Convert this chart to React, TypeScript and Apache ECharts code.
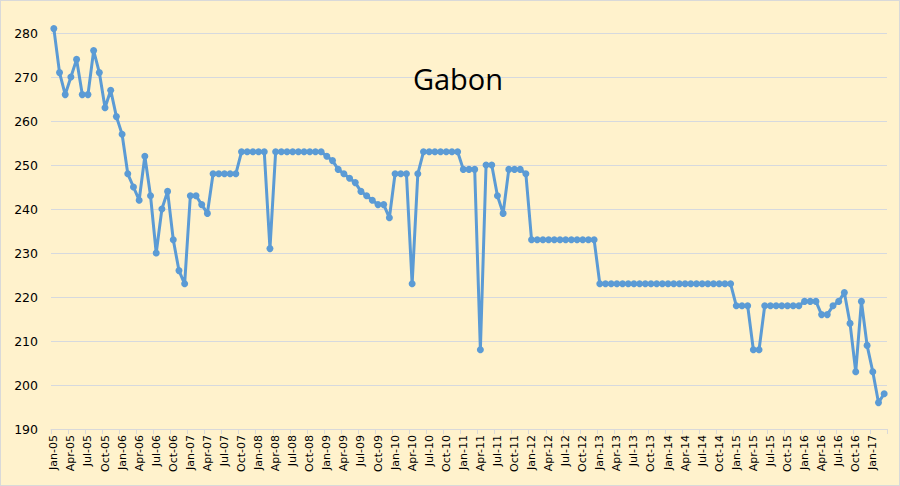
import React, { useEffect, useRef } from "react";
import * as echarts from "echarts";

const MONTHS = ["Jan", "Feb", "Mar", "Apr", "May", "Jun", "Jul", "Aug", "Sep", "Oct", "Nov", "Dec"];
const YEARS = ["05", "06", "07", "08", "09", "10", "11", "12", "13", "14", "15", "16", "17"];
const LAST_YEAR_MONTHS = 3;

const categories: string[] = [];
YEARS.forEach((y, yi) => {
  const n = yi === YEARS.length - 1 ? LAST_YEAR_MONTHS : 12;
  for (let m = 0; m < n; m++) categories.push(`${MONTHS[m]}-${y}`);
});

const production2005_2007 = [
  281, 271, 266, 270, 274, 266, 266, 276, 271, 263, 267, 261,
  257, 248, 245, 242, 252, 243, 230, 240, 244, 233, 226, 223,
  243, 243, 241, 239, 248, 248, 248, 248, 248, 253, 253, 253,
];
const production2008_2010 = [
  253, 253, 231, 253, 253, 253, 253, 253, 253, 253, 253, 253,
  252, 251, 249, 248, 247, 246, 244, 243, 242, 241, 241, 238,
  248, 248, 248, 223, 248, 253, 253, 253, 253, 253, 253, 253,
];
const production2011_2013 = [
  249, 249, 249, 208, 250, 250, 243, 239, 249, 249, 249, 248,
  233, 233, 233, 233, 233, 233, 233, 233, 233, 233, 233, 233,
  223, 223, 223, 223, 223, 223, 223, 223, 223, 223, 223, 223,
];
const production2014_2017 = [
  223, 223, 223, 223, 223, 223, 223, 223, 223, 223, 223, 223,
  218, 218, 218, 208, 208, 218, 218, 218, 218, 218, 218, 218,
  219, 219, 219, 216, 216, 218, 219, 221, 214, 203, 219, 209,
  203, 196, 198,
];
const production = [
  ...production2005_2007,
  ...production2008_2010,
  ...production2011_2013,
  ...production2014_2017,
];

const TITLE = "Gabon";
const Y_MIN = 190;
const Y_MAX = 280;
const Y_STEP = 10;

export default function App() {
  const ref = useRef<HTMLDivElement>(null);
  useEffect(() => {
    if (!ref.current) return;
    const chart = echarts.init(ref.current, null, { renderer: "svg" });
    chart.setOption({
      animation: false,
      backgroundColor: "#FFF2CC",
      title: {
        text: TITLE,
        left: 452,
        top: 58,
        textAlign: "center",
        textStyle: {
          fontFamily: "Open Sans",
          fontSize: 29,
          fontWeight: "normal",
          color: "#000000",
        },
      },
      grid: { left: 50, right: 12, top: 32, bottom: 56, containLabel: false },
      xAxis: {
        type: "category",
        data: categories,
        boundaryGap: true,
        axisLine: { show: true, lineStyle: { color: "#D9D9D9", width: 1 } },
        axisTick: { show: true, interval: 2, length: 5, lineStyle: { color: "#D9D9D9" } },
        axisLabel: {
          interval: 2,
          rotate: 90,
          fontFamily: "DejaVu Sans",
          fontSize: 11,
          color: "#000000",
          margin: 6,
        },
        splitLine: { show: false },
      },
      yAxis: {
        type: "value",
        min: Y_MIN,
        max: Y_MAX,
        interval: Y_STEP,
        axisLine: { show: false },
        axisTick: { show: false },
        axisLabel: {
          fontFamily: "DejaVu Sans",
          fontSize: 12.5,
          color: "#000000",
          margin: 13,
        },
        splitLine: { show: true, lineStyle: { color: "#D6D9DE", width: 1 } },
      },
      series: [
        {
          type: "line",
          data: production,
          symbol: "circle",
          symbolSize: 7,
          showSymbol: true,
          showAllSymbol: true,
          clip: false,
          lineStyle: { color: "#5B9BD5", width: 3 },
          itemStyle: { color: "#5B9BD5" },
        },
      ],
    });
    return () => chart.dispose();
  }, []);
  return (
    <div
      ref={ref}
      style={{
        position: "fixed",
        left: 0,
        top: 0,
        width: 900,
        height: 486,
        boxSizing: "border-box",
        border: "1px solid #D9D9D9",
      }}
    />
  );
}
